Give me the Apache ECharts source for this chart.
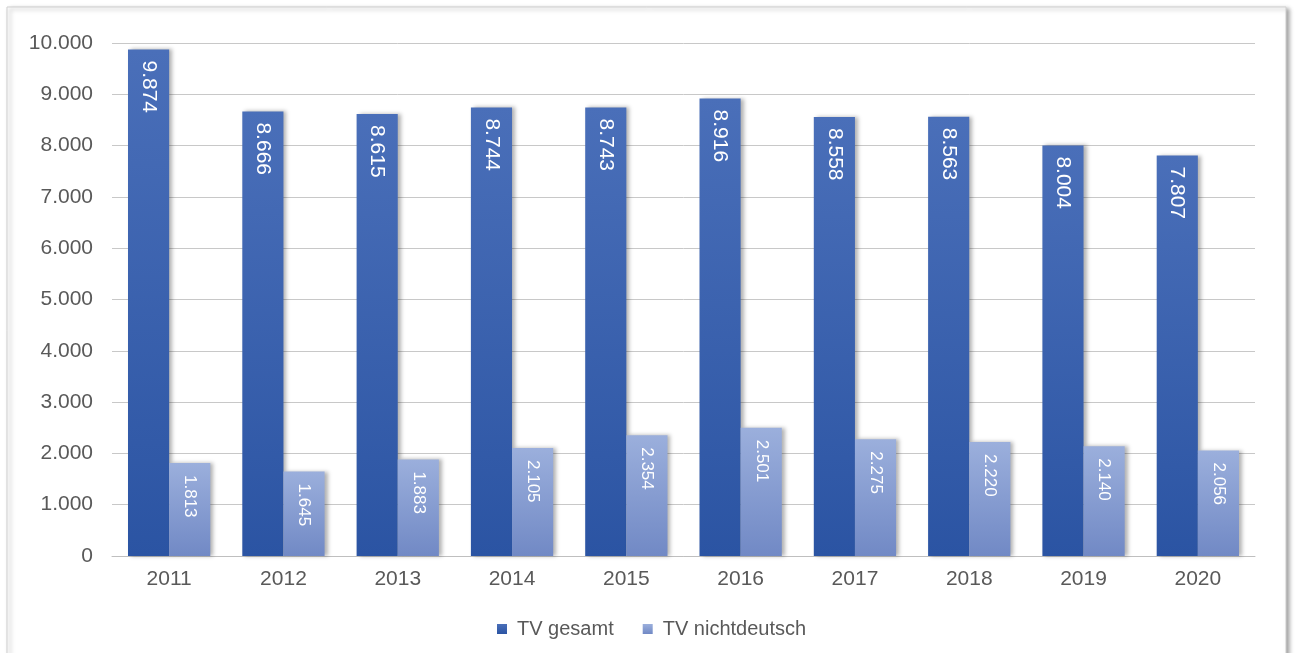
<!DOCTYPE html>
<html>
<head>
<meta charset="utf-8">
<script src="https://cdn.jsdelivr.net/npm/echarts@6/dist/echarts.min.js"></script>
<style>
  html, body { margin: 0; padding: 0; background: #fff; }
  #chart { width: 1295px; height: 653px; }
</style>
</head>
<body>
<div id="chart"></div>
<script>
// Daten
const years = ["2011", "2012", "2013", "2014", "2015", "2016", "2017", "2018", "2019", "2020"];
const tvGesamt = [9874, 8666, 8615, 8744, 8743, 8916, 8558, 8563, 8004, 7807];
const tvNichtdeutsch = [1813, 1645, 1883, 2105, 2354, 2501, 2275, 2220, 2140, 2056];
const seriesNames = ["TV gesamt", "TV nichtdeutsch"];

const FONT = "Liberation Sans, Arial, sans-serif";

// deutsches Tausendertrennzeichen
function fmt(v) {
  return String(v).replace(/\B(?=(\d{3})+(?!\d))/g, ".");
}

function grad(top, bottom) {
  return new echarts.graphic.LinearGradient(0, 0, 0, 1, [
    { offset: 0, color: top },
    { offset: 1, color: bottom }
  ]);
}

const chart = echarts.init(document.getElementById("chart"));

const option = {
  backgroundColor: "#fff",
  animation: false,
  textStyle: { fontFamily: FONT },
  graphic: [
    {
      type: "rect",
      z: -10,
      silent: true,
      shape: { x: 7, y: 7, width: 1279, height: 660 },
      style: {
        fill: "#fff",
        stroke: "#cfcfcf",
        lineWidth: 1,
        shadowBlur: 4,
        shadowOffsetX: 3,
        shadowOffsetY: 2,
        shadowColor: "rgba(0,0,0,0.35)"
      }
    }
  ],
  grid: { left: 112, right: 40, top: 43, bottom: 97 },
  legend: {
    top: 619,
    left: 497,
    padding: 0,
    itemWidth: 10,
    itemHeight: 10,
    itemGap: 29,
    icon: "rect",
    textStyle: { fontSize: 20, color: "#595959", fontFamily: FONT, padding: [0, 0, 0, 5] },
    data: seriesNames
  },
  xAxis: {
    type: "category",
    data: years,
    axisLine: { lineStyle: { color: "#bfbfbf", width: 1 } },
    axisTick: { show: false },
    axisLabel: { fontSize: 21, color: "#595959", margin: 13 }
  },
  yAxis: {
    type: "value",
    min: 0,
    max: 10000,
    interval: 1000,
    axisLine: { show: false },
    axisTick: { show: false },
    splitLine: { lineStyle: { color: "#c8c8c8", width: 1 } },
    axisLabel: {
      fontSize: 21,
      color: "#595959",
      margin: 19,
      formatter: function(v) { return fmt(v); }
    }
  },
  series: [
    {
      name: seriesNames[0],
      type: "bar",
      data: tvGesamt,
      barGap: "0%",
      barCategoryGap: "28%",
      itemStyle: {
        color: grad("#4a6fb9", "#2b54a3"),
        shadowBlur: 4,
        shadowOffsetX: 3,
        shadowOffsetY: 0,
        shadowColor: "rgba(0,0,0,0.3)"
      },
      label: {
        show: true,
        position: "insideTop",
        rotate: -90,
        align: "left",
        verticalAlign: "middle",
        distance: 11,
        color: "#fff",
        fontSize: 21,
        fontFamily: FONT,
        formatter: function(p) { return fmt(p.value); }
      }
    },
    {
      name: seriesNames[1],
      type: "bar",
      data: tvNichtdeutsch,
      itemStyle: {
        color: grad("#9bafdc", "#7189c5"),
        shadowBlur: 4,
        shadowOffsetX: 3,
        shadowOffsetY: 0,
        shadowColor: "rgba(0,0,0,0.3)"
      },
      label: {
        show: true,
        position: "insideTop",
        rotate: -90,
        align: "left",
        verticalAlign: "middle",
        distance: 12,
        color: "#fff",
        fontSize: 17,
        fontFamily: FONT,
        formatter: function(p) { return fmt(p.value); }
      }
    }
  ]
};

chart.setOption(option);
window.addEventListener("resize", () => {
  chart.resize();
});
</script>
</body>
</html>
